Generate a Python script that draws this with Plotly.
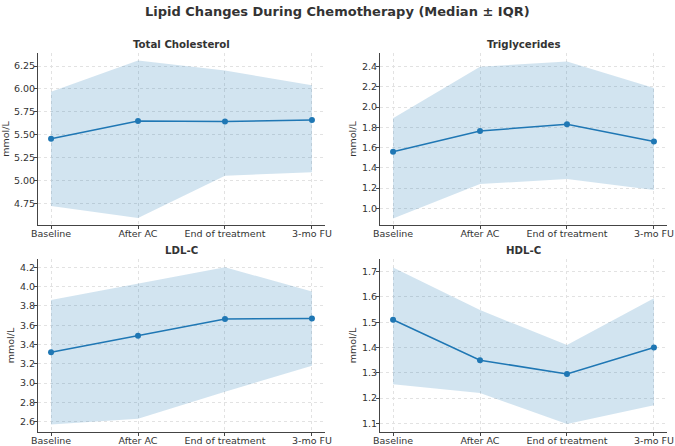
import plotly.graph_objects as go

categories = ["Baseline", "After AC", "End of treatment", "3-mo FU"]

tc_median = [5.455, 5.65, 5.645, 5.66]
tc_q1 = [4.72, 4.59, 5.05, 5.09]
tc_q3 = [5.97, 6.31, 6.20, 6.04]

tg_median = [1.56, 1.765, 1.83, 1.66]
tg_q1 = [0.90, 1.24, 1.29, 1.18]
tg_q3 = [1.89, 2.40, 2.45, 2.19]

ldl_median = [3.32, 3.49, 3.665, 3.67]
ldl_q1 = [2.57, 2.63, 2.91, 3.18]
ldl_q3 = [3.86, 4.03, 4.20, 3.95]

hdl_median = [1.51, 1.35, 1.295, 1.40]
hdl_q1 = [1.255, 1.22, 1.097, 1.172]
hdl_q3 = [1.717, 1.548, 1.41, 1.595]

panels = [
    ("Total Cholesterol", tc_median, tc_q1, tc_q3, [4.513, 6.392], 0.25, ".2f"),
    ("Triglycerides", tg_median, tg_q1, tg_q3, [0.835, 2.535], 0.2, ".1f"),
    ("LDL-C", ldl_median, ldl_q1, ldl_q3, [2.496, 4.283], 0.2, ".1f"),
    ("HDL-C", hdl_median, hdl_q1, hdl_q3, [1.067, 1.749], 0.1, ".1f"),
]

W, H = 675, 446
# pixel boxes (left, right, top, bottom)
boxes = [
    (38, 325, 53, 225),
    (380, 667, 53, 225),
    (38, 325, 259.3, 431.7),
    (380, 667, 259.3, 431.7),
]
title_y = [44.5, 44.5, 251, 251]

BLUE = "#1f77b4"
FILL = "rgba(31,119,180,0.2)"
FONT = "DejaVu Sans"
TXT = "#333333"

fig = go.Figure()
annotations = []
xpos = list(range(len(categories)))

for i, (title, med, q1, q3, yr, dt, fmt) in enumerate(panels):
    n = i + 1
    xa = "x" if n == 1 else f"x{n}"
    ya = "y" if n == 1 else f"y{n}"
    fig.add_trace(go.Scatter(x=xpos, y=q1, mode="lines", line=dict(width=0, color=FILL),
                             hoverinfo="skip", showlegend=False, xaxis=xa, yaxis=ya))
    fig.add_trace(go.Scatter(x=xpos, y=q3, mode="lines", line=dict(width=0, color=FILL),
                             fill="tonexty", fillcolor=FILL, showlegend=False, xaxis=xa, yaxis=ya))
    fig.add_trace(go.Scatter(x=xpos, y=med, mode="lines+markers",
                             line=dict(color=BLUE, width=1.5),
                             marker=dict(color=BLUE, size=6),
                             showlegend=False, xaxis=xa, yaxis=ya))
    l, r, t, b = boxes[i]
    xd = [l / W, r / W]
    yd = [1 - b / H, 1 - t / H]
    key = "" if n == 1 else str(n)
    axis_common = dict(
        showline=True, linecolor="#444444", linewidth=1,
        showgrid=True, gridcolor="#e2e2e2", griddash="dot", gridwidth=1,
        ticks="outside", ticklen=3, tickcolor="#444444",
        tickfont=dict(family=FONT, size=9.5, color=TXT),
        zeroline=False, mirror=False, automargin=False,
    )
    fig.update_layout({
        f"xaxis{key}": dict(domain=xd, anchor=ya, range=[-0.15, 3.15],
                            tickmode="array", tickvals=xpos, ticktext=categories,
                            ticklabelstandoff=-3, **axis_common),
        f"yaxis{key}": dict(domain=yd, anchor=xa, range=yr, dtick=dt, tickformat=fmt,
                            ticklabelstandoff=-3,
                            title=dict(text="mmol/L", font=dict(family=FONT, size=9.5, color=TXT), standoff=3),
                            **axis_common),
    })
    annotations.append(dict(text=f"<b>{title}</b>", x=(xd[0] + xd[1]) / 2, y=1 - title_y[i] / H,
                            xref="paper", yref="paper", xanchor="center", yanchor="middle",
                            showarrow=False, font=dict(family=FONT, size=10.2, color=TXT)))

annotations.append(dict(text="<b>Lipid Changes During Chemotherapy (Median ± IQR)</b>",
                        x=0.5, y=1 - 12 / H, xref="paper", yref="paper", xanchor="center", yanchor="middle",
                        showarrow=False, font=dict(family=FONT, size=13, color=TXT)))

fig.update_layout(width=W, height=H, margin=dict(l=0, r=0, t=0, b=0, autoexpand=False),
                  template="none",
                  plot_bgcolor="white", paper_bgcolor="white", annotations=annotations,
                  font=dict(family=FONT))

fig.write_html("out.html")
